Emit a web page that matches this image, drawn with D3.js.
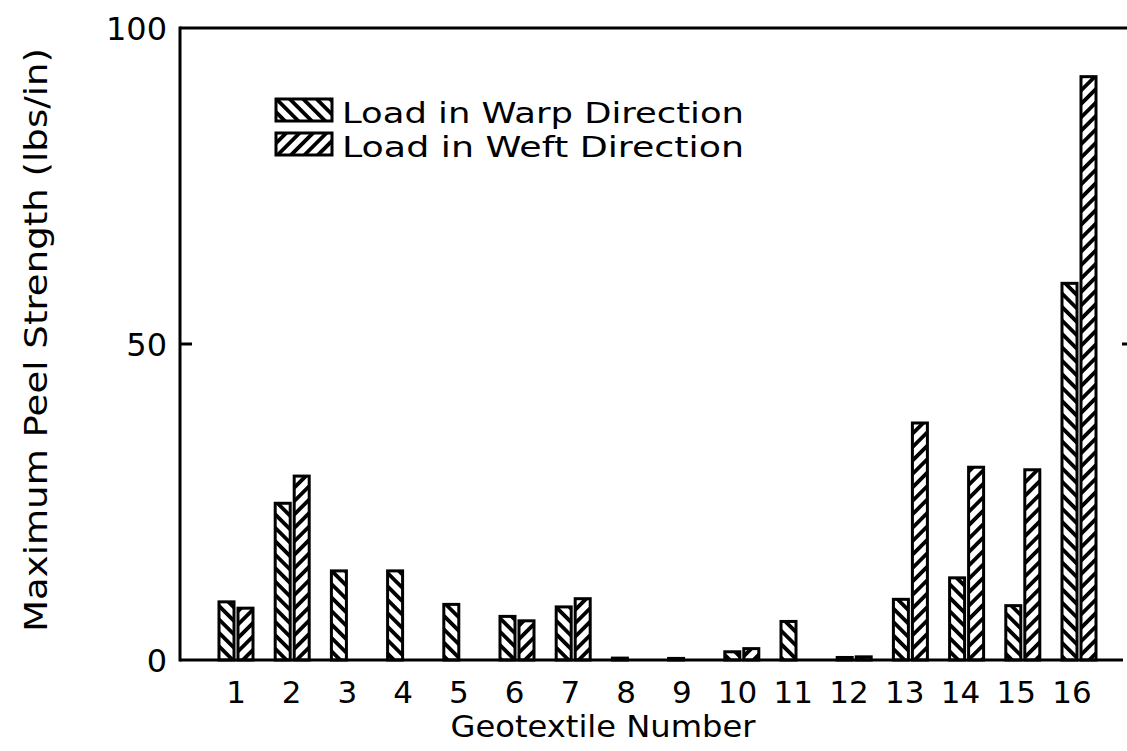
<!DOCTYPE html>
<html><head><meta charset="utf-8">
<script src="https://cdn.jsdelivr.net/npm/d3@7"></script>
<style>body{margin:0;background:#fff}svg{display:block}text{font-family:"DejaVu Sans",sans-serif;fill:#000}</style>
</head><body><svg id="c" width="1127" height="751"></svg>
<script>
const categories = ["1","2","3","4","5","6","7","8","9","10","11","12","13","14","15","16"];
const warpValues = [9.2, 24.8, 14.1, 14.1, 8.8, 6.9, 8.4, 0.3, 0.25, 1.3, 6.1, 0.4, 9.6, 13.0, 8.6, 59.6];
const weftValues = [8.2, 29.1, 0, 0, 0, 6.2, 9.7, 0, 0, 1.8, 0, 0.5, 37.5, 30.5, 30.1, 92.3];
const seriesNames = ["Load in Warp Direction", "Load in Weft Direction"];
const yTicks = [0, 50, 100];

const svg = d3.select("#c");
const L = 180, T = 28, B = 660, R = 1127;
const y = d3.scaleLinear().domain([0, 100]).range([B, T]);
const x0 = d3.scaleBand().domain(categories).range([207.9, 1107.1]).paddingInner(0.395).paddingOuter(0.1975);
const x1 = d3.scaleBand().domain(["warp","weft"]).range([0, x0.bandwidth()]).paddingInner(0.2105);
const xl = d3.scalePoint().domain(categories).range([236, 1072]);

const defs = svg.append("defs");
function hatch(id, angle){
  const p = defs.append("pattern").attr("id", id).attr("patternUnits","userSpaceOnUse")
    .attr("width", 9.5).attr("height", 9.5).attr("patternTransform", `rotate(${angle})`);
  p.append("rect").attr("width",9.5).attr("height",9.5).attr("fill","#fff");
  p.append("rect").attr("x",0).attr("y",0).attr("width",3.8).attr("height",9.5).attr("fill","#000");
}
hatch("warp", -45);
hatch("weft", 45);

// bars
const data = [];
categories.forEach((c,i)=>{
  data.push({c, s:"warp", v:warpValues[i]});
  data.push({c, s:"weft", v:weftValues[i]});
});
svg.append("g").selectAll("rect").data(data.filter(d=>d.v>0)).join("rect")
  .attr("x", d=>x0(d.c)+x1(d.s))
  .attr("y", d=>y(d.v))
  .attr("width", x1.bandwidth())
  .attr("height", d=>y(0)-y(d.v))
  .attr("fill", d=>`url(#${d.s})`)
  .attr("stroke","#000").attr("stroke-width",3);

// frame
const fr = svg.append("g").attr("stroke","#000").attr("stroke-width",3).attr("fill","none");
fr.append("line").attr("x1",L).attr("x2",L).attr("y1",T-1.5).attr("y2",B+1.5);
fr.append("line").attr("x1",L).attr("x2",R).attr("y1",T).attr("y2",T);
fr.append("line").attr("x1",L).attr("x2",1123).attr("y1",B).attr("y2",B);
fr.append("line").attr("x1",L).attr("x2",L+12).attr("y1",y(50)).attr("y2",y(50));
fr.append("line").attr("x1",1122).attr("x2",1127).attr("y1",y(50)).attr("y2",y(50));

// y tick labels
svg.append("g").selectAll("text").data(yTicks).join("text")
  .attr("x", 167).attr("y", d=>y(d)).attr("dy","0.36em")
  .attr("text-anchor","end").attr("font-size",32).text(d=>d);

// x tick labels
svg.append("g").selectAll("text").data(categories).join("text")
  .attr("x", d=>xl(d)).attr("y", 703).attr("text-anchor","middle")
  .attr("font-size",31).text(d=>d);

svg.append("text").attr("x",603).attr("y",737).attr("text-anchor","middle")
  .attr("font-size",31).attr("textLength",305).attr("lengthAdjust","spacingAndGlyphs")
  .text("Geotextile Number");
svg.append("text").attr("transform","translate(47,340) rotate(-90)").attr("text-anchor","middle")
  .attr("font-size",32).attr("textLength",584).attr("lengthAdjust","spacingAndGlyphs")
  .text("Maximum Peel Strength (lbs/in)");

// legend
const lg = svg.append("g");
[["warp",98],["weft",132]].forEach(([s,top],i)=>{
  lg.append("rect").attr("x",276).attr("y",top+1).attr("width",56).attr("height",22)
    .attr("fill",`url(#${s})`).attr("stroke","#000").attr("stroke-width",3);
  lg.append("text").attr("x",342).attr("y",top+25).attr("font-size",29)
    .attr("textLength",402).attr("lengthAdjust","spacingAndGlyphs").text(seriesNames[i]);
});
</script></body></html>
